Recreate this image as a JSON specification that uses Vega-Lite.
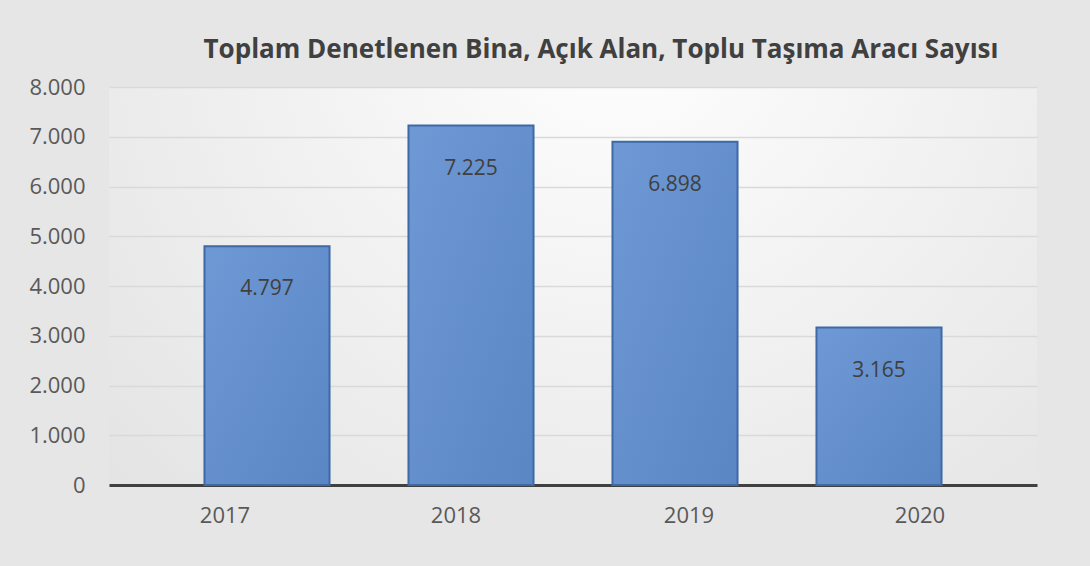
{
  "$schema": "https://vega.github.io/schema/vega-lite/v6.json",
  "width": 928,
  "height": 398,
  "autosize": "none",
  "padding": {"left": 109, "top": 87, "right": 53, "bottom": 81},
  "background": "#e6e6e6",
  "config": {
    "locale": {"number": {"decimal": ",", "thousands": ".", "grouping": [3], "currency": ["", " TL"]}},
    "view": {
      "stroke": null,
      "fill": {
        "gradient": "radial",
        "x1": 0.55, "y1": 0.2, "r1": 0,
        "x2": 0.55, "y2": 0.2, "r2": 0.85,
        "stops": [{"offset": 0, "color": "#ffffff"}, {"offset": 1, "color": "#e0e0e0"}]
      }
    }
  },
  "title": {
    "text": "Toplam Denetlenen Bina, Açık Alan, Toplu Taşıma Aracı Sayısı",
    "font": "Open Sans",
    "fontWeight": "bold",
    "fontSize": 26,
    "color": "#404040",
    "anchor": "middle",
    "dx": 28,
    "offset": 13
  },
  "data": {
    "values": [
      {"yil": "2017", "sayi": 4797},
      {"yil": "2018", "sayi": 7225},
      {"yil": "2019", "sayi": 6898},
      {"yil": "2020", "sayi": 3165}
    ]
  },
  "encoding": {
    "x": {
      "field": "yil",
      "type": "nominal",
      "sort": null,
      "title": null,
      "scale": {"paddingInner": 0.387, "paddingOuter": 0.468},
      "axis": {
        "labelAngle": 0,
        "labelFont": "Open Sans",
        "labelFontSize": 22,
        "labelColor": "#595959",
        "labelPadding": 20,
        "labelOffset": {
          "condition": [
            {"test": "datum.value == '2017'", "value": -42},
            {"test": "datum.value == '2018'", "value": -15},
            {"test": "datum.value == '2019'", "value": 14}
          ],
          "value": 41
        },
        "ticks": false,
        "domainColor": "#404040",
        "domainWidth": 3,
        "grid": false
      }
    },
    "y": {
      "field": "sayi",
      "type": "quantitative",
      "title": null,
      "scale": {"domain": [0, 8000]},
      "axis": {
        "values": [0, 1000, 2000, 3000, 4000, 5000, 6000, 7000, 8000],
        "format": ",d",
        "labelFont": "Open Sans",
        "labelFontSize": 22,
        "labelColor": "#595959",
        "labelPadding": 24,
        "ticks": false,
        "domain": false,
        "gridColor": "#d9d9d9",
        "gridWidth": 1.5
      }
    }
  },
  "layer": [
    {
      "mark": {
        "type": "bar",
        "fill": {
          "gradient": "linear",
          "x1": 0, "y1": 0, "x2": 1, "y2": 1,
          "stops": [{"offset": 0, "color": "#6e99d5"}, {"offset": 1, "color": "#5a86c4"}]
        },
        "stroke": "#3d69a5",
        "strokeWidth": 2
      }
    },
    {
      "mark": {
        "type": "text",
        "baseline": "top",
        "dy": 32,
        "font": "Open Sans",
        "fontSize": 21,
        "color": "#404040"
      },
      "encoding": {
        "text": {"field": "sayi", "type": "quantitative", "format": ",d"}
      }
    }
  ]
}
